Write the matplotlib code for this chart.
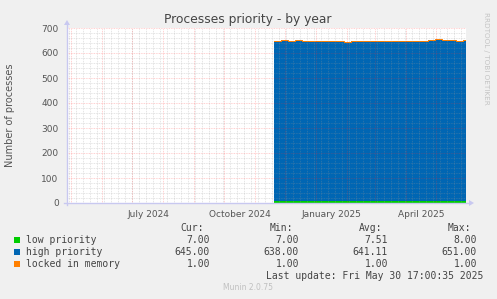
import matplotlib
matplotlib.use("Agg")
import matplotlib.pyplot as plt
import matplotlib.dates as mdates
import numpy as np
from datetime import datetime, timedelta


W, H = 497, 299

# weekly samples, Nov 20 2024 -> end of May 2025
start = datetime(2024, 11, 20)
low_priority = [8, 8, 7, 8, 8, 7, 8, 7, 8, 7, 7, 8, 7, 8, 8, 7, 7, 8, 8, 7, 8, 7, 8, 7, 7, 8, 7, 7]
high_priority = [641, 643, 640, 642, 641, 639, 640, 641, 640, 639, 638, 639, 640, 640,
                 641, 640, 639, 640, 641, 642, 640, 641, 644, 647, 645, 643, 642, 645]
locked = [1] * 28

legend_names = ["low priority", "high priority", "locked in memory"]
cur = ["7.00", "645.00", "1.00"]
mins = ["7.00", "638.00", "1.00"]
avgs = ["7.51", "641.11", "1.00"]
maxs = ["8.00", "651.00", "1.00"]
colors = ["#00cc00", "#0066b3", "#ff8000"]

x_labels = ["July 2024", "October 2024", "January 2025", "April 2025"]
x_label_pos = [datetime(2024, 7, 17), datetime(2024, 10, 17), datetime(2025, 1, 16), datetime(2025, 4, 16)]

t0 = datetime(2024, 4, 27)
t1 = datetime(2025, 5, 30, 17, 0)


def fx(px):
    return px / W


def fy(py):
    return 1 - py / H


fig = plt.figure(figsize=(W / 100, H / 100), dpi=100)
fig.patch.set_facecolor("#f0f0f0")

ax = fig.add_axes([fx(67), fy(203), fx(466) - fx(67), fy(28) - fy(203)])
ax.set_facecolor("white")

times = [start + timedelta(days=7 * i) for i in range(len(high_priority))]
times.append(t1)
tn = mdates.date2num(times)
lo = np.array(low_priority + [low_priority[-1]], dtype=float)
hi = np.array(high_priority + [high_priority[-1]], dtype=float)
lk = np.array(locked + [locked[-1]], dtype=float)

ax.fill_between(tn, 0, lo, step="post", color=colors[0], lw=0, zorder=1)
ax.fill_between(tn, lo, lo + hi, step="post", color=colors[1], lw=0, zorder=1)
ax.step(tn, lo + hi + lk, where="post", color=colors[2], lw=0.7, zorder=1)

ax.set_xlim(mdates.date2num(t0), mdates.date2num(t1))
ax.set_ylim(0, 700)

# grid
red = (1, 0.2, 0.2, 0.3)
gray = (0.6, 0.6, 0.6, 0.35)
for v in range(0, 701, 20):
    if v % 100 == 0:
        ax.axhline(v, color=red, lw=0.6, ls=(0, (1, 1)), zorder=3)
    else:
        ax.axhline(v, color=gray, lw=0.6, ls=(0, (1, 1)), zorder=2)

d = datetime(2024, 4, 29)
while d < t1:
    ax.axvline(mdates.date2num(d), color=gray, lw=0.6, ls=(0, (1, 1)), zorder=2)
    d += timedelta(days=7)
m = datetime(2024, 5, 1)
while m < t1:
    ax.axvline(mdates.date2num(m), color=red, lw=0.6, ls=(0, (1, 1)), zorder=3)
    m = datetime(m.year + (m.month // 12), m.month % 12 + 1, 1)

for s in ["top", "right", "left", "bottom"]:
    ax.spines[s].set_visible(False)

ax.set_yticks(range(0, 701, 100))
ax.set_yticklabels([str(v) for v in range(0, 701, 100)])
ax.set_xticks(mdates.date2num(x_label_pos))
ax.set_xticklabels(x_labels)
ax.tick_params(axis="both", length=0, labelsize=6.5, colors="#555555")
ax.tick_params(axis="y", pad=6)
ax.tick_params(axis="x", pad=5)

# axes with arrows
axis_c = "#c8c8f0"
fig.add_artist(plt.Line2D([fx(67), fx(67)], [fy(205), fy(24)], color=axis_c, lw=1))
fig.add_artist(plt.Line2D([fx(64), fx(470)], [fy(203), fy(203)], color=axis_c, lw=1))
fig.add_artist(plt.Polygon([[fx(64), fy(25)], [fx(70), fy(25)], [fx(67), fy(20)]], color=axis_c, lw=0))
fig.add_artist(plt.Polygon([[fx(469), fy(200)], [fx(469), fy(206)], [fx(474), fy(203)]], color=axis_c, lw=0))

fig.text(fx(248), fy(19), "Processes priority - by year", ha="center", va="center",
         fontsize=8.8, color="#444444")
fig.text(fx(10), fy(115), "Number of processes", rotation=90, ha="center", va="center",
         fontsize=7, color="#555555")
fig.text(fx(486), fy(58), "RRDTOOL / TOBI OETIKER", rotation=-90, ha="center", va="center",
         fontsize=5.2, color="#c4c4c4")

# legend
mono = "DejaVu Sans Mono"
fs = 7
col_right = [210, 299, 388, 477]
for h, xr in zip(["Cur:", "Min:", "Avg:", "Max:"], col_right):
    fig.text(fx(xr - 6), fy(228), h, ha="right", va="center", family=mono, fontsize=fs, color="#444444")

rows_y = [240, 252, 264]
for i in range(3):
    y = rows_y[i]
    fig.add_artist(plt.Rectangle((fx(14), fy(y + 3)), fx(6), fy(0) - fy(6), color=colors[i], lw=0))
    fig.text(fx(26.5), fy(y), legend_names[i], ha="left", va="center", family=mono, fontsize=fs, color="#444444")
    for vals, xr in zip([cur, mins, avgs, maxs], col_right):
        fig.text(fx(xr), fy(y), vals[i], ha="right", va="center", family=mono, fontsize=fs, color="#444444")

fig.text(fx(483), fy(276), "Last update: Fri May 30 17:00:35 2025", ha="right", va="center",
         family=mono, fontsize=fs, color="#444444")
fig.text(fx(248), fy(288), "Munin 2.0.75", ha="center", va="center", fontsize=5.5, color="#c0c0c0")

fig.savefig("out.png", dpi=100, facecolor=fig.get_facecolor())
